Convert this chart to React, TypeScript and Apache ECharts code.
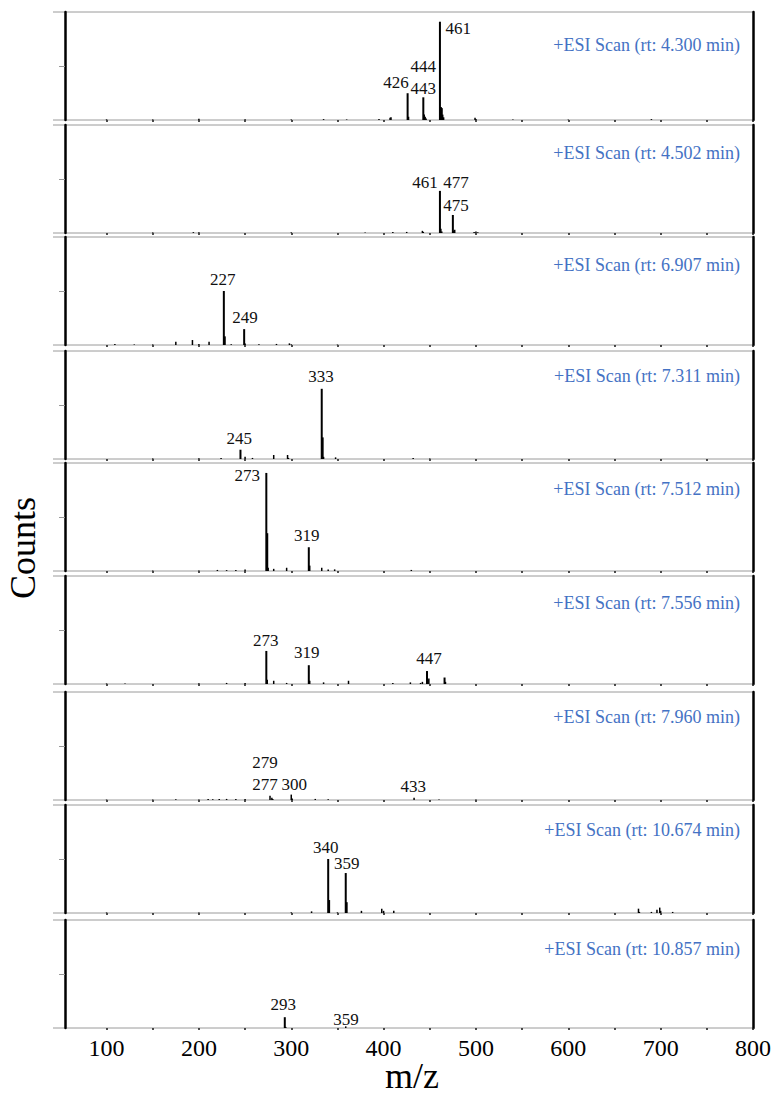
import React, { useEffect, useRef } from "react";
import * as echarts from "echarts";

// ---------- data ----------
const scanTimes = ["4.300", "4.502", "6.907", "7.311", "7.512", "7.556", "7.960", "10.674", "10.857"];

const xTickValues = [100, 150, 200, 250, 300, 350, 400, 450, 500, 550, 600, 650, 700, 750, 800];
const xLabelValues = [100, 200, 300, 400, 500, 600, 700, 800];

// [m/z, relative intensity (% of panel height)]
const peaks1 = [[100, 0.6], [150, 0.5], [200, 1.2], [250, 0.6], [300, 0.5], [335, 0.8], [360, 0.5], [395, 1], [407, 2], [408, 2.5], [426, 24.8], [427, 3], [443, 21], [444, 5], [445, 3], [446, 1.5], [461, 91], [462, 12], [463, 11], [464, 5], [465, 2.5], [499, 2], [500, 1], [540, 0.4], [600, 0.4], [690, 0.8]];
const peaks2 = [[150, 0.5], [194, 0.8], [200, 0.6], [300, 0.6], [380, 0.4], [410, 1], [425, 1], [442, 2], [443, 1], [461, 39], [462, 4], [463, 1.5], [475, 16.7], [476, 2], [477, 3], [498, 1], [500, 1.5], [502, 0.6]];
const peaks3 = [[109, 1], [130, 0.5], [150, 0.5], [175, 3], [193, 4.6], [200, 1], [211, 3], [227, 50], [228, 8], [235, 0.6], [249, 14.7], [250, 1.5], [265, 0.6], [284, 1], [298, 1.5], [300, 0.6], [350, 0.4]];
const peaks4 = [[150, 0.5], [200, 0.6], [224, 1], [245, 8.6], [250, 2], [258, 1], [281, 3.7], [296, 3.7], [297, 1], [333, 65], [334, 20], [335, 2], [348, 1.5], [432, 1], [450, 0.5]];
const peaks5 = [[150, 0.4], [200, 0.5], [220, 1], [230, 0.8], [240, 1], [250, 1.5], [273, 90.8], [274, 35], [275, 3], [281, 2], [295, 3], [319, 22], [320, 5], [333, 3], [340, 1.5], [347, 1.5], [430, 1]];
const peaks6 = [[100, 0.5], [120, 0.5], [200, 0.6], [230, 1], [250, 1], [273, 30.6], [274, 4], [281, 3], [295, 1], [319, 17.4], [320, 3], [335, 1.5], [362, 3], [410, 1], [429, 1.5], [440, 1], [442, 2], [447, 12], [448, 4], [449, 5], [466, 6], [467, 2]];
const peaks7 = [[100, 0.4], [150, 0.4], [175, 0.8], [200, 0.5], [210, 1], [215, 0.8], [222, 1], [230, 1], [240, 1], [250, 1], [277, 4], [279, 2], [280, 1], [300, 5], [301, 1.5], [326, 1], [340, 0.8], [433, 2], [460, 0.5], [500, 0.4]];
const peaks8 = [[100, 0.5], [200, 0.5], [300, 0.6], [322, 1.5], [340, 50], [341, 12], [350, 0.6], [359, 37], [360, 10], [376, 2], [398, 4], [400, 2], [411, 2], [676, 4], [677, 1], [690, 1], [696, 3], [699, 5], [700, 2], [713, 1]];
const peaks9 = [[293, 10], [294, 1], [359, 1.5]];

// peak annotations: [m/z where text sits, intensity where text sits, text]
const labels1 = [[480.9, 85, "461"], [443, 49.4, "444"], [443, 29.6, "443"], [413.4, 34.5, "426"]];
const labels2 = [[444.8, 46.6, "461"], [478.4, 46.6, "477"], [478.4, 25.9, "475"]];
const labels3 = [[225.8, 61, "227"], [249.9, 25.6, "249"]];
const labels4 = [[332.2, 76.5, "333"], [243.7, 19.4, "245"]];
const labels5 = [[252.4, 88, "273"], [316.7, 33, "319"]];
const labels6 = [[272.3, 40.1, "273"], [316.7, 29.4, "319"], [449.2, 23.8, "447"]];
const labels7 = [[271.6, 34.8, "279"], [271.6, 13.9, "277"], [303.3, 13.9, "300"], [432.2, 12.6, "433"]];
const labels8 = [[337.3, 61, "340"], [360, 45.6, "359"]];
const labels9 = [[291.4, 21.3, "293"], [359.3, 8.3, "359"]];

const allPeaks = [peaks1, peaks2, peaks3, peaks4, peaks5, peaks6, peaks7, peaks8, peaks9];
const allLabels = [labels1, labels2, labels3, labels4, labels5, labels6, labels7, labels8, labels9];

// ---------- layout ----------
const W = 778;
const H = 1095;
const LEFT = 65;
const PLOT_W = 688;
const GRID_TOPS = [12, 125, 237, 351, 463, 576, 692, 805, 920];
const GRID_H = 108;
const TITLE_DY = [33, 28, 28, 25, 26, 27, 25, 25, 29];
const SERIF = "Liberation Serif";

export default function App() {
  const ref = useRef<HTMLDivElement>(null);

  useEffect(() => {
    if (!ref.current) return;
    const chart = echarts.init(ref.current, null, { renderer: "svg" });
    const n = scanTimes.length;

    const grids: any[] = [];
    const xAxes: any[] = [];
    const yAxes: any[] = [];
    const series: any[] = [];
    const graphics: any[] = [];

    for (let i = 0; i < n; i++) {
      const top = GRID_TOPS[i];
      const isLast = i === n - 1;
      grids.push({ left: LEFT, top, width: PLOT_W, height: GRID_H });
      xAxes.push({
        type: "value",
        gridIndex: i,
        min: 55,
        max: 800,
        axisLine: { show: false },
        splitLine: { show: false },
        axisTick: {
          show: true,
          customValues: xTickValues,
          length: 2,
          lineStyle: { color: "#222", width: 1.6 },
        },
        axisLabel: {
          show: isLast,
          customValues: xLabelValues,
          fontSize: 24,
          fontFamily: SERIF,
          color: "#000",
          margin: 8,
        },
      });
      yAxes.push({
        type: "value",
        gridIndex: i,
        min: 0,
        max: 100,
        position: "left",
        axisLine: { show: true, lineStyle: { color: "#000", width: 2.5 } },
        axisTick: { show: true, customValues: [50], length: 6, lineStyle: { color: "#999", width: 1 } },
        axisLabel: { show: false },
        splitLine: { show: false },
      });
      yAxes.push({
        type: "value",
        gridIndex: i,
        min: 0,
        max: 100,
        position: "right",
        axisLine: { show: true, lineStyle: { color: "#000", width: 2.5 } },
        axisTick: { show: false },
        axisLabel: { show: false },
        splitLine: { show: false },
      });

      series.push({
        type: "custom",
        xAxisIndex: i,
        yAxisIndex: 2 * i,
        data: allPeaks[i],
        clip: false,
        renderItem: (params: any, api: any) => {
          const x = api.value(0);
          const y = api.value(1);
          const a = api.coord([x, 0]);
          const b = api.coord([x, y]);
          return {
            type: "line",
            shape: { x1: a[0], y1: a[1], x2: b[0], y2: b[1] },
            style: { stroke: "#000", lineWidth: y > 5 ? 2 : 1.5 },
          };
        },
      });

      const labs = allLabels[i];
      series.push({
        type: "custom",
        xAxisIndex: i,
        yAxisIndex: 2 * i,
        data: labs.map((l) => [l[0], l[1]]),
        clip: false,
        z: 5,
        renderItem: (params: any, api: any) => {
          const p = api.coord([api.value(0), api.value(1)]);
          const text = labs[params.dataIndex][2] as string;
          return {
            type: "text",
            x: p[0],
            y: p[1],
            style: {
              text,
              fill: "#111",
              fontSize: 17,
              fontFamily: SERIF,
              align: "center",
              verticalAlign: "middle",
              textAlign: "center",
              textVerticalAlign: "middle",
            },
          };
        },
      });

      // gray horizontal frame lines (top border and baseline), extending a bit left
      [top, top + GRID_H].forEach((yy) => {
        graphics.push({
          type: "line",
          z: -1,
          shape: { x1: 53, y1: yy, x2: LEFT + PLOT_W, y2: yy },
          style: { stroke: "#9a9a9a", lineWidth: 1 },
        });
      });

      graphics.push({
        type: "text",
        x: 740,
        y: top + TITLE_DY[i],
        style: {
          text: `+ESI Scan (rt: ${scanTimes[i]} min)`,
          fill: "#4472C4",
          fontSize: 18,
          fontFamily: SERIF,
          textAlign: "right",
          textVerticalAlign: "middle",
          align: "right",
          verticalAlign: "middle",
        },
      });
    }

    graphics.push({
      type: "text",
      x: 23,
      y: 548,
      rotation: Math.PI / 2,
      style: {
        text: "Counts",
        fill: "#000",
        fontSize: 36,
        fontFamily: SERIF,
        textAlign: "center",
        textVerticalAlign: "middle",
        align: "center",
        verticalAlign: "middle",
      },
    });
    graphics.push({
      type: "text",
      x: 412,
      y: 1076,
      style: {
        text: "m/z",
        fill: "#000",
        fontSize: 36,
        fontFamily: SERIF,
        textAlign: "center",
        textVerticalAlign: "middle",
        align: "center",
        verticalAlign: "middle",
      },
    });

    chart.setOption({
      animation: false,
      backgroundColor: "#fff",
      textStyle: { fontFamily: SERIF },
      grid: grids,
      xAxis: xAxes,
      yAxis: yAxes,
      series,
      graphic: graphics,
    });

    return () => chart.dispose();
  }, []);

  return (
    <div
      ref={ref}
      style={{ position: "absolute", left: 0, top: 0, width: W, height: H }}
    />
  );
}
